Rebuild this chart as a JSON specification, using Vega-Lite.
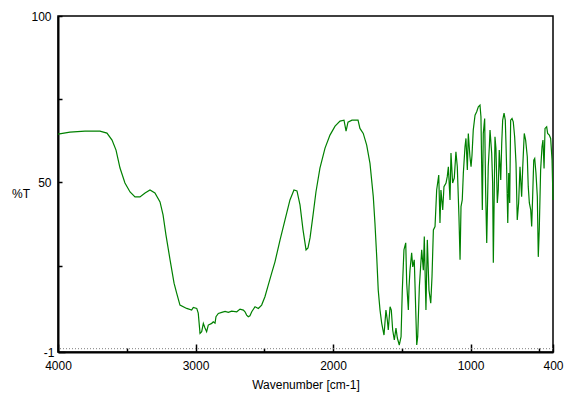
{
  "$schema": "https://vega.github.io/schema/vega-lite/v6.json",
  "width": 495,
  "height": 336,
  "autosize": {"type": "none"},
  "padding": {"left": 58, "top": 16, "right": 17, "bottom": 41},
  "background": "white",
  "config": {
    "view": {"stroke": "black", "strokeWidth": 1.5},
    "axis": {
      "labelFont": "Liberation Sans",
      "titleFont": "Liberation Sans",
      "labelFontSize": 12,
      "titleFontSize": 12,
      "labelColor": "black",
      "titleColor": "black",
      "titleFontWeight": "normal",
      "domainColor": "black",
      "domainWidth": 2,
      "tickColor": "black",
      "tickWidth": 1.5,
      "grid": false
    }
  },
  "datasets": {
    "spectrum": [
      {"wn":4000,"T":64.5},{"wn":3913,"T":65.1},{"wn":3804,"T":65.4},{"wn":3695,"T":65.4},{"wn":3644,"T":64.8},
      {"wn":3607,"T":62.7},{"wn":3578,"T":59.7},{"wn":3549,"T":54.3},{"wn":3513,"T":49.8},{"wn":3476,"T":47.1},
      {"wn":3440,"T":45.6},{"wn":3404,"T":45.6},{"wn":3367,"T":46.8},{"wn":3331,"T":47.7},{"wn":3295,"T":46.8},
      {"wn":3258,"T":44.1},{"wn":3236,"T":40.2},{"wn":3215,"T":34.2},{"wn":3185,"T":26.7},{"wn":3156,"T":19.7},
      {"wn":3137,"T":16.7},{"wn":3113,"T":13.1},{"wn":3064,"T":12.1},{"wn":3028,"T":11.6},{"wn":3016,"T":12.4},
      {"wn":2991,"T":12.1},{"wn":2980,"T":10.7},{"wn":2967,"T":4.6},{"wn":2955,"T":5.1},{"wn":2943,"T":7.6},
      {"wn":2931,"T":6.2},{"wn":2919,"T":5.1},{"wn":2907,"T":7.1},{"wn":2882,"T":7.6},{"wn":2871,"T":8.1},
      {"wn":2858,"T":7.7},{"wn":2851,"T":9.6},{"wn":2834,"T":10.6},{"wn":2809,"T":10.9},{"wn":2785,"T":11.2},
      {"wn":2761,"T":10.9},{"wn":2737,"T":11.3},{"wn":2700,"T":11.1},{"wn":2676,"T":11.9},{"wn":2652,"T":11.6},
      {"wn":2640,"T":11.1},{"wn":2628,"T":10.1},{"wn":2616,"T":9.6},{"wn":2604,"T":9.9},{"wn":2591,"T":11.1},
      {"wn":2567,"T":12.6},{"wn":2543,"T":12.1},{"wn":2519,"T":13.1},{"wn":2495,"T":15.6},{"wn":2471,"T":19.1},
      {"wn":2446,"T":22.7},{"wn":2422,"T":26.1},{"wn":2385,"T":32.7},{"wn":2349,"T":38.7},{"wn":2313,"T":44.7},
      {"wn":2284,"T":47.7},{"wn":2262,"T":47.4},{"wn":2240,"T":43.2},{"wn":2218,"T":35.7},{"wn":2196,"T":29.7},
      {"wn":2182,"T":30.3},{"wn":2167,"T":33.3},{"wn":2145,"T":40.2},{"wn":2124,"T":47.1},{"wn":2095,"T":54.3},
      {"wn":2058,"T":60.3},{"wn":2022,"T":64.2},{"wn":1985,"T":66.9},{"wn":1949,"T":68.4},{"wn":1920,"T":68.7},
      {"wn":1905,"T":65.4},{"wn":1891,"T":68.1},{"wn":1862,"T":68.7},{"wn":1818,"T":68.7},{"wn":1804,"T":66.2},
      {"wn":1780,"T":64.7},{"wn":1755,"T":61.2},{"wn":1731,"T":55.7},{"wn":1707,"T":45.7},{"wn":1695,"T":37.8},
      {"wn":1682,"T":27.6},{"wn":1671,"T":17.6},{"wn":1658,"T":11.6},{"wn":1646,"T":7.7},{"wn":1629,"T":4.1},
      {"wn":1615,"T":11.6},{"wn":1605,"T":8.6},{"wn":1598,"T":5.6},{"wn":1585,"T":12.6},{"wn":1576,"T":11.6},
      {"wn":1566,"T":5.6},{"wn":1554,"T":2.6},{"wn":1542,"T":6.2},{"wn":1532,"T":3.2},{"wn":1518,"T":1.1},
      {"wn":1505,"T":3.6},{"wn":1496,"T":17.6},{"wn":1484,"T":29.7},{"wn":1471,"T":31.8},{"wn":1464,"T":19.7},
      {"wn":1452,"T":11.6},{"wn":1447,"T":18.6},{"wn":1440,"T":23.6},{"wn":1428,"T":28.8},{"wn":1420,"T":24.6},
      {"wn":1409,"T":26.7},{"wn":1404,"T":19.7},{"wn":1391,"T":1.1},{"wn":1384,"T":3.6},{"wn":1372,"T":18.6},
      {"wn":1355,"T":29.7},{"wn":1343,"T":23.6},{"wn":1336,"T":33.7},{"wn":1324,"T":11.6},{"wn":1314,"T":32.7},
      {"wn":1302,"T":17.6},{"wn":1289,"T":13.7},{"wn":1280,"T":21.6},{"wn":1270,"T":35.7},{"wn":1258,"T":36.7},
      {"wn":1246,"T":47.7},{"wn":1231,"T":52.2},{"wn":1222,"T":37.8},{"wn":1215,"T":47.7},{"wn":1202,"T":41.7},
      {"wn":1193,"T":48.7},{"wn":1178,"T":49.8},{"wn":1169,"T":51.7},{"wn":1161,"T":54.7},{"wn":1149,"T":44.7},
      {"wn":1142,"T":58.8},{"wn":1130,"T":49.8},{"wn":1118,"T":51.3},{"wn":1106,"T":59.2},{"wn":1096,"T":54.7},
      {"wn":1084,"T":39.7},{"wn":1076,"T":26.7},{"wn":1069,"T":42.7},{"wn":1060,"T":44.7},{"wn":1052,"T":52.8},
      {"wn":1040,"T":60.7},{"wn":1033,"T":63.2},{"wn":1023,"T":53.7},{"wn":1016,"T":64.7},{"wn":1004,"T":57.7},
      {"wn":996,"T":54.7},{"wn":989,"T":58.2},{"wn":980,"T":65.7},{"wn":967,"T":70.2},{"wn":955,"T":71.2},
      {"wn":943,"T":72.7},{"wn":931,"T":73.2},{"wn":924,"T":69.7},{"wn":914,"T":41.7},{"wn":907,"T":64.7},
      {"wn":897,"T":69.2},{"wn":890,"T":47.7},{"wn":882,"T":31.8},{"wn":871,"T":54.7},{"wn":863,"T":60.7},
      {"wn":858,"T":65.7},{"wn":846,"T":58.8},{"wn":839,"T":49.8},{"wn":834,"T":25.8},{"wn":827,"T":47.7},
      {"wn":822,"T":63.7},{"wn":815,"T":60.2},{"wn":805,"T":43.8},{"wn":798,"T":47.7},{"wn":791,"T":59.7},
      {"wn":780,"T":50.7},{"wn":773,"T":61.7},{"wn":766,"T":68.7},{"wn":756,"T":70.8},{"wn":747,"T":68.7},
      {"wn":742,"T":61.7},{"wn":737,"T":53.7},{"wn":729,"T":37.8},{"wn":722,"T":52.8},{"wn":715,"T":43.8},
      {"wn":708,"T":68.7},{"wn":698,"T":69.2},{"wn":689,"T":68.2},{"wn":679,"T":63.7},{"wn":669,"T":55.7},
      {"wn":660,"T":38.7},{"wn":650,"T":43.8},{"wn":640,"T":54.7},{"wn":628,"T":45.7},{"wn":620,"T":54.7},
      {"wn":609,"T":64.7},{"wn":599,"T":62.7},{"wn":587,"T":57.7},{"wn":580,"T":48.7},{"wn":572,"T":43.8},
      {"wn":562,"T":41.7},{"wn":555,"T":36.7},{"wn":548,"T":45.7},{"wn":540,"T":56.7},{"wn":533,"T":57.2},
      {"wn":524,"T":52.8},{"wn":514,"T":45.7},{"wn":507,"T":27.6},{"wn":500,"T":35.7},{"wn":490,"T":53.7},
      {"wn":480,"T":60.7},{"wn":473,"T":62.7},{"wn":465,"T":54.2},{"wn":458,"T":66.2},{"wn":446,"T":66.7},
      {"wn":439,"T":64.7},{"wn":427,"T":64.2},{"wn":417,"T":63.2},{"wn":407,"T":56.7},{"wn":400,"T":44.7}
    ],
    "baseline": [{"T": 0}]
  },
  "layer": [
    {
      "data": {"name": "baseline"},
      "mark": {"type": "rule", "color": "#808080", "strokeWidth": 1, "strokeDash": [1, 2]},
      "encoding": {
        "y": {"field": "T", "type": "quantitative", "scale": {"domain": [-1, 100]}}
      }
    },
    {
      "data": {"name": "spectrum"},
      "mark": {"type": "line", "color": "#008000", "strokeWidth": 1.2, "interpolate": "linear"},
      "encoding": {
        "x": {
          "field": "wn", "type": "quantitative",
          "scale": {"domain": [4000, 400], "nice": false, "zero": false},
          "axis": {
            "title": "Wavenumber [cm-1]",
            "values": [4000, 3500, 3000, 2500, 2000, 1500, 1000, 500, 400],
            "format": "d",
            "labelExpr": "(datum.value % 1000 == 0 || datum.value == 400) ? datum.label : ''",
            "tickSize": {"condition": {"test": "datum.value % 1000 == 0 || datum.value == 400", "value": -8}, "value": -4},
            "labelPadding": 16,
            "labelFlush": false,
            "labelBound": false,
            "labelOverlap": false,
            "titleX": 247.5,
            "titleY": 36,
            "titleBaseline": "alphabetic",
            "titleAlign": "center"
          }
        },
        "y": {
          "field": "T", "type": "quantitative",
          "scale": {"domain": [-1, 100], "nice": false, "zero": false},
          "axis": {
            "title": "%T",
            "values": [100, 75, 50, 25, -1],
            "labelExpr": "(datum.value == 75 || datum.value == 25) ? '' : (datum.value == -1 ? '-1' : datum.label)",
            "tickSize": {"condition": {"test": "datum.value == -1", "value": -7}, "value": -4},
            "labelPadding": 11,
            "labelFlush": false,
            "labelBound": false,
            "labelOverlap": false,
            "titleAngle": 0,
            "titleAlign": "center",
            "titleBaseline": "middle",
            "titleX": -37.5,
            "titleY": 177
          }
        }
      }
    }
  ]
}
